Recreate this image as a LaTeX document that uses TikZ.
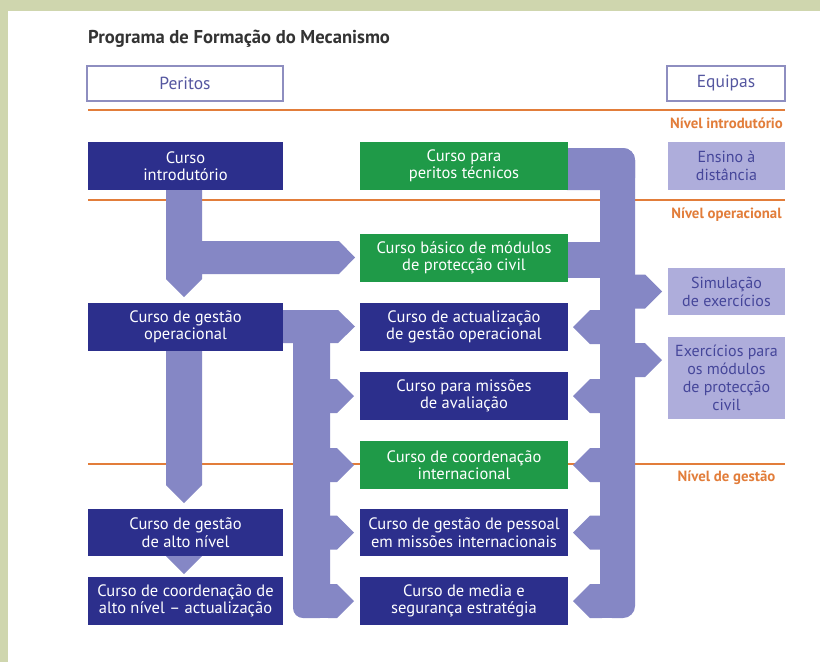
\documentclass[tikz,border=0pt]{standalone}
\usepackage{fontspec}
\setmainfont{PT Sans}
\definecolor{olivebg}{HTML}{CFD6AE}
\definecolor{dblue}{HTML}{2C2F8C}
\definecolor{dgreen}{HTML}{1F9A48}
\definecolor{lpurple}{HTML}{AEADDB}
\definecolor{ltext}{HTML}{45469A}
\definecolor{pipec}{HTML}{8587C5}
\definecolor{orng}{HTML}{E27D3A}
\definecolor{hdrline}{HTML}{8E8EC0}
\definecolor{hdrtext}{HTML}{5557A0}
\definecolor{titlec}{HTML}{333333}
\begin{document}
\begin{tikzpicture}[x=1pt,y=-1pt,
  base/.style={inner sep=0pt, align=center, font=\fontsize{16.5}{17.5}\selectfont},
  bluebox/.style={base, fill=dblue, text=white},
  greenbox/.style={base, fill=dgreen, text=white},
  lightbox/.style={base, fill=lpurple, text=ltext, minimum width=117pt, font=\fontsize{16}{17.8}\selectfont},
  leftcol/.style={minimum width=195pt, minimum height=48pt},
  midcol/.style={minimum width=208pt, minimum height=48pt},
  headbox/.style={base, draw=hdrline, line width=1.5pt, fill=white, text=hdrtext, minimum height=35pt, font=\fontsize{17.5}{19}\selectfont},
  lvl/.style={inner sep=0pt, anchor=base, text=orng, font=\fontsize{14.8}{16}\selectfont\bfseries},
  lvlline/.style={draw=orng, line width=2.5pt},
  pipe/.style={fill=pipec}
]
\useasboundingbox (0,0) rectangle (820,662);
\fill[olivebg] (0,0) rectangle (820,662);
\fill[white] (8,11) rectangle (820,662);

% title
\node[anchor=base west, inner sep=0pt, text=titlec, font=\fontsize{18.6}{20}\selectfont\bfseries] (title) at (88,43.5) {Programa de Formação do Mecanismo};

% headers
\node[headbox, minimum width=196pt] (peritos) at (185,83.5) {Peritos};
\node[headbox, minimum width=118pt] (equipas) at (726,83.5) {Equipas};

% level lines
\draw[lvlline] (88,110) -- (785,110);
\draw[lvlline] (88,200) -- (785,200);
\draw[lvlline] (88,464) -- (785,464);
\node[lvl] (lv1) at (726.5,128.5) {Nível introdutório};
\node[lvl] (lv2) at (726.5,218.5) {Nível operacional};
\node[lvl] (lv3) at (726.5,481) {Nível de gestão};

% pipe A: introdutorio -> gestao operacional + basico
\fill[pipe] (166,185) -- (202,185) -- (202,241) -- (339,241) -- (355,257.5) -- (339,274) -- (202,274) -- (202,279) -- (184,297) -- (166,279) -- cycle;
% pipe B: gestao operacional -> alto nivel
\fill[pipe] (166,345) -- (202,345) -- (202,485) -- (184,503) -- (166,485) -- cycle;
% triangle C
\fill[pipe] (166,556) -- (202,556) -- (184,574) -- cycle;
% pipe D: gestao operacional bracket
\fill[pipe] (278,310) -- (338,310) -- (355,326.5) -- (338,343) -- (278,343) -- cycle;
\fill[pipe, rounded corners=10pt] (293,315) rectangle (330,618);
\fill[pipe] (318,600) rectangle (330,618);
\fill[pipe] (328,379) -- (337,379) -- (354,396) -- (337,413) -- (328,413) -- cycle;
\fill[pipe] (328,448) -- (337,448) -- (354,465) -- (337,482) -- (328,482) -- cycle;
\fill[pipe] (328,515.5) -- (337,515.5) -- (354,532.5) -- (337,549.5) -- (328,549.5) -- cycle;
\fill[pipe] (328,584) -- (337,584) -- (354,601) -- (337,618) -- (328,618) -- cycle;
% pipe E: right bracket
\fill[pipe, rounded corners=12pt] (555,148) rectangle (635,190);
\fill[pipe, rounded corners=12pt] (600,148) rectangle (635,618);
\fill[pipe] (600,600) rectangle (612,618);
\fill[pipe] (560,242) rectangle (605,278);
\fill[pipe] (602,310) -- (590,310) -- (573,327) -- (590,344) -- (602,344) -- cycle;
\fill[pipe] (602,379) -- (590,379) -- (573,396) -- (590,413) -- (602,413) -- cycle;
\fill[pipe] (602,448) -- (590,448) -- (573,465) -- (590,482) -- (602,482) -- cycle;
\fill[pipe] (602,515.5) -- (590,515.5) -- (573,532.5) -- (590,549.5) -- (602,549.5) -- cycle;
\fill[pipe] (602,584) -- (590,584) -- (573,601) -- (590,618) -- (602,618) -- cycle;
\fill[pipe] (633,274.5) -- (645,274.5) -- (662,291.5) -- (645,308.5) -- (633,308.5) -- cycle;
\fill[pipe] (633,343) -- (645,343) -- (662,360) -- (645,377) -- (633,377) -- cycle;

% left column
\node[bluebox, leftcol] (intro) at (185.5,166) {Curso\\introdutório};
\node[bluebox, leftcol] (gop) at (185.5,327) {Curso de gestão\\operacional};
\node[bluebox, leftcol, minimum height=47pt] (alto) at (185.5,532.5) {Curso de gestão\\de alto nível};
\node[bluebox, leftcol] (coordalto) at (185.5,601) {Curso de coordenação de\\alto nível – actualização};

% middle column
\node[greenbox, midcol] (peritostec) at (464,166) {Curso para\\peritos técnicos};
\node[greenbox, midcol] (basico) at (464,258) {Curso básico de módulos\\de protecção civil};
\node[bluebox, midcol] (actual) at (464,327) {Curso de actualização\\de gestão operacional};
\node[bluebox, midcol] (missoes) at (464,396) {Curso para missões\\de avaliação};
\node[greenbox, midcol] (coordint) at (464,465) {Curso de coordenação\\internacional};
\node[bluebox, midcol, minimum height=47pt] (pessoal) at (464,532.5) {Curso de gestão de pessoal\\em missões internacionais};
\node[bluebox, midcol] (media) at (464,601) {Curso de media e\\segurança estratégia};

% right column
\node[lightbox, minimum height=48pt] (ensino) at (726.5,166) {Ensino à\\distância};
\node[lightbox, minimum height=47pt] (simul) at (726.5,291.5) {Simulação\\de exercícios};
\node[lightbox, minimum height=82pt] (exerc) at (726.5,378) {Exercícios para\\os módulos\\de protecção\\civil};
\end{tikzpicture}
\end{document}
